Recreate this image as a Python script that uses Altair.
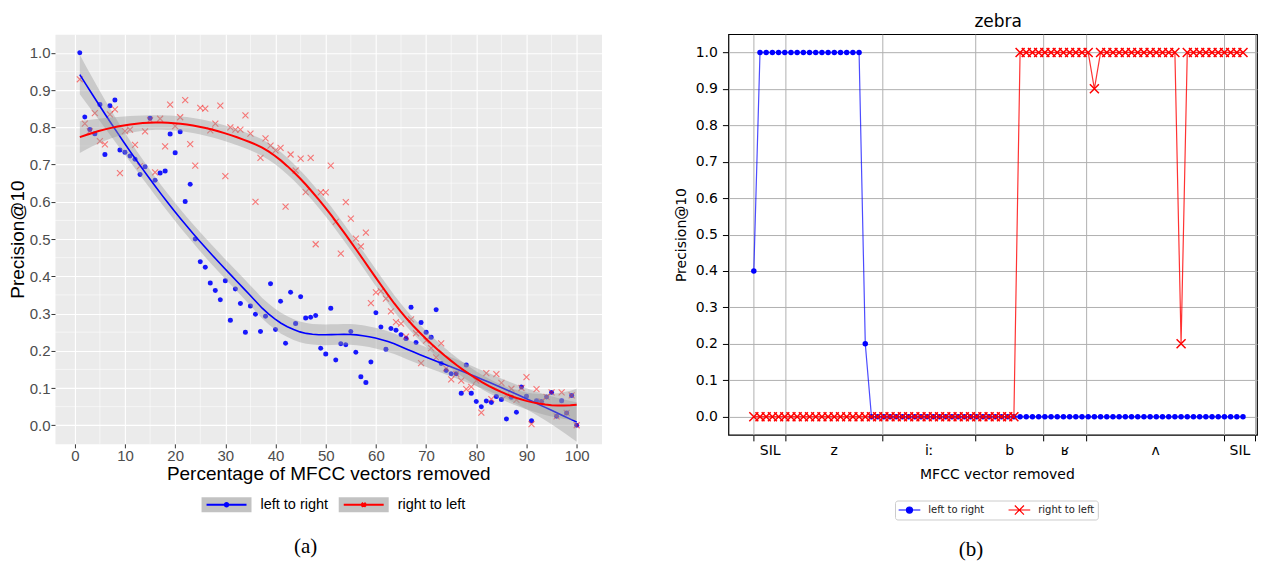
import numpy as np
import pandas as pd
import altair as alt

# ---------------- panel (a) data ----------------
pct_removed = list(range(1, 101))
a_left_to_right = [
    1.000, 0.828, 0.794, 0.783, 0.861, 0.727, 0.858, 0.873, 0.739, 0.733,
    0.723, 0.714, 0.673, 0.694, 0.824, 0.658, 0.677, 0.683, 0.782, 0.732,
    0.788, 0.601, 0.647, 0.500, 0.439, 0.424, 0.382, 0.362, 0.337, 0.388,
    0.282, 0.366, 0.327, 0.250, 0.320, 0.298, 0.252, 0.293, 0.380, 0.257,
    0.333, 0.220, 0.357, 0.273, 0.345, 0.288, 0.290, 0.295, 0.207, 0.191,
    0.314, 0.175, 0.219, 0.216, 0.252, 0.196, 0.130, 0.115, 0.170, 0.302,
    0.264, 0.204, 0.260, 0.255, 0.243, 0.233, 0.317, 0.222, 0.276, 0.250,
    0.236, 0.310, 0.166, 0.147, 0.138, 0.138, 0.086, 0.162, 0.086, 0.064,
    0.050, 0.065, 0.061, 0.077, 0.069, 0.017, 0.075, 0.035, 0.103, 0.078,
    0.012, 0.066, 0.064, 0.076, 0.088, 0.024, 0.066, 0.033, 0.080, 0.000]
a_right_to_left = [
    0.929, 0.810, 0.790, 0.838, 0.763, 0.754, 0.835, 0.848, 0.677, 0.790,
    0.794, 0.753, 0.696, 0.789, 0.820, 0.679, 0.823, 0.749, 0.861, 0.803,
    0.827, 0.873, 0.755, 0.697, 0.852, 0.850, 0.792, 0.810, 0.858, 0.669,
    0.800, 0.794, 0.794, 0.832, 0.783, 0.600, 0.718, 0.770, 0.751, 0.738,
    0.745, 0.587, 0.727, 0.684, 0.716, 0.626, 0.718, 0.486, 0.625, 0.625,
    0.697, 0.546, 0.461, 0.599, 0.555, 0.501, 0.480, 0.517, 0.328, 0.357,
    0.360, 0.340, 0.306, 0.277, 0.273, 0.238, 0.284, 0.247, 0.167, 0.227,
    0.207, 0.182, 0.220, 0.153, 0.123, 0.138, 0.120, 0.097, 0.103, 0.120,
    0.034, 0.140, 0.070, 0.137, 0.114, 0.080, 0.098, 0.068, 0.100, 0.129,
    0.003, 0.097, 0.064, 0.076, 0.088, 0.024, 0.088, 0.033, 0.080, 0.000]
a_x_ticks = [0, 10, 20, 30, 40, 50, 60, 70, 80, 90, 100]
a_x_minor = [5, 15, 25, 35, 45, 55, 65, 75, 85, 95]
y_ticks = [0.0, 0.1, 0.2, 0.3, 0.4, 0.5, 0.6, 0.7, 0.8, 0.9, 1.0]
a_y_minor = [0.05, 0.15, 0.25, 0.35, 0.45, 0.55, 0.65, 0.75, 0.85, 0.95]

# ---------------- panel (b) data ----------------
frame_index = list(range(80))
b_left_to_right = [
    0.4, 1, 1, 1, 1, 1, 1, 1, 1, 1,
    1, 1, 1, 1, 1, 1, 1, 1, 0.2, 0,
    0, 0, 0, 0, 0, 0, 0, 0, 0, 0,
    0, 0, 0, 0, 0, 0, 0, 0, 0, 0,
    0, 0, 0, 0, 0, 0, 0, 0, 0, 0,
    0, 0, 0, 0, 0, 0, 0, 0, 0, 0,
    0, 0, 0, 0, 0, 0, 0, 0, 0, 0,
    0, 0, 0, 0, 0, 0, 0, 0, 0, 0]
b_right_to_left = [
    0, 0, 0, 0, 0, 0, 0, 0, 0, 0,
    0, 0, 0, 0, 0, 0, 0, 0, 0, 0,
    0, 0, 0, 0, 0, 0, 0, 0, 0, 0,
    0, 0, 0, 0, 0, 0, 0, 0, 0, 0,
    0, 0, 0, 1, 1, 1, 1, 1, 1, 1,
    1, 1, 1, 1, 1, 0.9, 1, 1, 1, 1,
    1, 1, 1, 1, 1, 1, 1, 1, 1, 0.2,
    1, 1, 1, 1, 1, 1, 1, 1, 1, 1]
phone_boundaries = [0.0, 5.13, 20.69, 35.79, 46.67, 53.66, 75.93, 80.93]
phone_labels = ["SIL", "z", "iː", "b", "ʁ", "ʌ", "SIL"]

SERIES = ["left to right", "right to left"]
BLUE = "#0000FF"
RED = "#FF0000"


# ---------------- loess smoother (like ggplot geom_smooth) ----------------
def loess_fit(xv, yv, span=0.75, n_eval=80):
    xv = np.asarray(xv, float)
    yv = np.asarray(yv, float)
    n = len(xv)
    q = int(np.floor(n * span))

    def lrow(x0):
        d = np.abs(xv - x0)
        h = max(np.sort(d)[q - 1], 1e-9)
        u = np.clip(d / h, 0, 1)
        w = (1 - u ** 3) ** 3
        X = np.column_stack([np.ones(n), xv - x0, (xv - x0) ** 2])
        XtW = X.T * w
        return np.linalg.solve(XtW @ X, XtW)[0]

    L = np.array([lrow(x0) for x0 in xv])
    res = yv - L @ yv
    IL = np.eye(n) - L
    d1 = np.trace(IL.T @ IL)
    sigma = np.sqrt(np.sum(res ** 2) / d1)
    grid = np.linspace(xv.min(), xv.max(), n_eval)
    rows = np.array([lrow(g) for g in grid])
    fit = rows @ yv
    se = sigma * np.sqrt(np.sum(rows ** 2, axis=1))
    tq = 1.985
    return pd.DataFrame({"x": grid, "y": fit, "lo": fit - tq * se, "hi": fit + tq * se})


sm_blue = loess_fit(pct_removed, a_left_to_right)
sm_red = loess_fit(pct_removed, a_right_to_left)

df_a = pd.DataFrame({
    "x": pct_removed + pct_removed,
    "y": a_left_to_right + a_right_to_left,
    "series": [SERIES[0]] * len(pct_removed) + [SERIES[1]] * len(pct_removed),
})
df_leg = pd.DataFrame({"series": SERIES})

# ---------------- panel (a) ----------------
xa = alt.Scale(domain=[-3.95, 104.95], nice=False, zero=False)
ya = alt.Scale(domain=[-0.05, 1.05], nice=False, zero=False)
FA = "Liberation Sans"

ax_a_x = alt.Axis(values=a_x_ticks, grid=True, gridColor="white", gridWidth=1.1,
                  domain=False, tickColor="#333333", tickSize=4, tickWidth=1,
                  labelFont=FA, labelFontSize=15, labelColor="#4D4D4D", labelPadding=1,
                  labelFlush=False, labelOverlap=False,
                  title="Percentage of MFCC vectors removed", titleFont=FA, titleFontSize=19,
                  titleFontWeight="normal", titleColor="black", titleY=35.2,
                  titleBaseline="alphabetic")
ax_a_y = alt.Axis(values=y_ticks, format=".1f", grid=True, gridColor="white", gridWidth=1.1,
                  domain=False, tickColor="#333333", tickSize=4, tickWidth=1,
                  labelFont=FA, labelFontSize=15, labelColor="#4D4D4D", labelPadding=1,
                  labelFlush=False, labelOverlap=False,
                  title="Precision@10", titleFont=FA, titleFontSize=19,
                  titleFontWeight="normal", titleColor="black", titleX=-31.3,
                  titleBaseline="alphabetic")


def XA(field="x"):
    return alt.X(f"{field}:Q", scale=xa, axis=ax_a_x)


def YA(field="y"):
    return alt.Y(f"{field}:Q", scale=ya, axis=ax_a_y)


minor_x = alt.Chart(pd.DataFrame({"x": a_x_minor})).mark_rule(color="white", strokeWidth=0.55).encode(
    x=XA())
minor_y = alt.Chart(pd.DataFrame({"y": a_y_minor})).mark_rule(color="white", strokeWidth=0.55).encode(
    y=YA())

pts_blue_a = alt.Chart(df_a).transform_filter(alt.datum.series == SERIES[0]).mark_circle(
    size=25, color=BLUE, opacity=0.9).encode(x=XA(), y=YA())
XPATH = "M-1,-1L1,1M-1,1L1,-1"
pts_red_a = alt.Chart(df_a).transform_filter(alt.datum.series == SERIES[1]).mark_point(
    shape=XPATH, size=36, strokeWidth=1.1, color=RED, opacity=0.5, filled=False).encode(
    x=XA(), y=YA())


def band(df):
    return alt.Chart(df).mark_area(color="#999999", opacity=0.4).encode(
        x=XA(), y=YA("lo"), y2="hi:Q")


def smooth_line(df, col, w):
    return alt.Chart(df).mark_line(color=col, strokeWidth=w).encode(x=XA(), y=YA())


leg_a_common = dict(
    orient="none", legendX=145.7, legendY=444.7, direction="horizontal",
    title=None, symbolSize=2500, symbolStrokeWidth=2, labelFont=FA,
    labelFontSize=14.5, labelColor="black", labelOffset=8, columnPadding=9.3, padding=0)

RECT = "M-1,-0.3H1V0.3H-1Z"
key_domain = ["k_" + s for s in SERIES]
leg_a_bg = alt.Chart(df_leg).transform_calculate(key="'k_' + datum.series").transform_filter(
    "false").mark_point(shape=RECT, filled=True, strokeWidth=2, opacity=0.6).encode(
    color=alt.Color("key:N", scale=alt.Scale(domain=key_domain, range=["#999999", "#999999"]),
                    legend=alt.Legend(symbolType=RECT, symbolOpacity=0.6, labelOpacity=0,
                                      labelExpr="substring(datum.label, 2)", **leg_a_common)))

KEY_BLUE = "M-0.8,0H0.8M-0.07,0A0.07,0.07 0 1,0 0.07,0A0.07,0.07 0 1,0 -0.07,0Z"
KEY_RED = "M-0.8,0H0.8M-0.08,-0.08L0.08,0.08M-0.08,0.08L0.08,-0.08"
leg_a_obj = alt.Legend(**leg_a_common)
leg_a_fg = alt.Chart(df_leg).transform_filter("false").mark_point(
    filled=True, strokeWidth=2, opacity=1).encode(
    fill=alt.Fill("series:N", scale=alt.Scale(domain=SERIES, range=[BLUE, RED]), legend=leg_a_obj),
    stroke=alt.Stroke("series:N", scale=alt.Scale(domain=SERIES, range=[BLUE, RED]), legend=leg_a_obj),
    shape=alt.Shape("series:N", scale=alt.Scale(domain=SERIES, range=[KEY_BLUE, KEY_RED]), legend=leg_a_obj))

left = alt.layer(
    minor_x, minor_y, pts_blue_a, pts_red_a,
    band(sm_blue), smooth_line(sm_blue, BLUE, 1.6),
    band(sm_red), smooth_line(sm_red, RED, 2.0),
    leg_a_bg, leg_a_fg,
).properties(
    width=547, height=410,
    view=alt.ViewBackground(fill="#EBEBEB", stroke="transparent"),
    title=alt.TitleParams("(a)", orient="bottom", frame="group", anchor="middle", dx=-22.7,
                          offset=35, baseline="middle", font="Liberation Serif", fontSize=21,
                          fontWeight="normal", color="black"),
)

# ---------------- panel (b) ----------------
FB = "DejaVu Sans"
xb = alt.Scale(domain=[-4.1, 81.26], nice=False, zero=False)
yb = alt.Scale(domain=[-0.05, 1.05], nice=False, zero=False)
mids = [round((a + b) / 2, 3) for a, b in zip(phone_boundaries[:-1], phone_boundaries[1:])]
tick_vals = phone_boundaries + mids
mid_test = " || ".join(f"datum.value == {m!r}" for m in mids)
label_expr = " : ".join(f"datum.value == {m!r} ? '{p}'" for m, p in zip(mids, phone_labels)) + " : ''"

ax_b_x = alt.Axis(orient="bottom", values=tick_vals, labelExpr=label_expr, labelOverlap=False,
                  labelFlush=False, grid=True, gridColor="#B0B0B0", gridWidth=1,
                  gridOpacity={"condition": {"test": mid_test, "value": 0}, "value": 1},
                  ticks=True, tickColor="#000000", tickSize=6, tickWidth=1,
                  tickOpacity={"condition": {"test": mid_test, "value": 0}, "value": 1},
                  domain=False, labelFont=FB, labelFontSize=14, labelColor="#000000",
                  labelPadding=3, title="MFCC vector removed", titleFont=FB, titleFontSize=14,
                  titleFontWeight="normal", titleColor="#000000", titleX=268.7, titleY=43.4,
                  titleBaseline="alphabetic")
ax_b_y = alt.Axis(values=y_ticks, format=".1f", grid=True, gridColor="#B0B0B0", gridWidth=1,
                  domain=False, tickColor="#000000", tickSize=6, tickWidth=1,
                  labelFont=FB, labelFontSize=14, labelColor="#000000", labelPadding=5,
                  labelFlush=False, title="Precision@10", titleFont=FB, titleFontSize=14,
                  titleFontWeight="normal", titleColor="#000000", titleX=-43.1,
                  titleBaseline="alphabetic")
ax_b_top = alt.Axis(orient="top", title="zebra", labels=False, ticks=False, domain=False,
                    grid=False, titleFont=FB, titleFontSize=17, titleFontWeight="normal",
                    titleColor="#000000", titleX=269.5, titleY=-7.5, titleBaseline="alphabetic")


def YB():
    return alt.Y("y:Q", scale=yb, axis=ax_b_y)


df_b = pd.DataFrame({
    "frame": frame_index + frame_index,
    "y": b_left_to_right + b_right_to_left,
    "series": [SERIES[0]] * len(frame_index) + [SERIES[1]] * len(frame_index),
})
bl = alt.Chart(df_b).transform_filter(alt.datum.series == SERIES[0])
rl = alt.Chart(df_b).transform_filter(alt.datum.series == SERIES[1])

line_blue_b = bl.mark_line(color=BLUE, strokeWidth=1.2, opacity=0.7).encode(
    x=alt.X("frame:Q", scale=xb, axis=ax_b_x), y=YB())
pts_blue_b = bl.mark_circle(size=30, color=BLUE, opacity=1).encode(
    x=alt.X("frame:Q", scale=xb, axis=ax_b_top), y=YB())
line_red_b = rl.mark_line(color=RED, strokeWidth=1.2, opacity=0.8).encode(
    x=alt.X("frame:Q", scale=xb, axis=None), y=YB())
pts_red_b = rl.mark_point(shape=XPATH, size=81, strokeWidth=1.5, color=RED, opacity=1,
                          filled=False).encode(
    x=alt.X("frame:Q", scale=xb, axis=None), y=YB())

KEYB_BLUE = "M-1,0H1M-0.28,0A0.28,0.28 0 1,0 0.28,0A0.28,0.28 0 1,0 -0.28,0Z"
KEYB_RED = "M-1,0H1M-0.42,-0.42L0.42,0.42M-0.42,0.42L0.42,-0.42"
leg_b_obj = alt.Legend(orient="none", legendX=166.7, legendY=466.7, direction="horizontal",
                       title=None, symbolSize=471, symbolStrokeWidth=1.2, clipHeight=13,
                       labelFont=FB, labelFontSize=10, labelColor="#222222", labelOffset=7.3,
                       columnPadding=23, padding=3, strokeColor="#CCCCCC", fillColor="white",
                       cornerRadius=2.5)
leg_b = alt.Chart(df_leg).transform_filter("false").mark_point(
    filled=True, strokeWidth=1.2, opacity=1).encode(
    fill=alt.Fill("series:N", scale=alt.Scale(domain=SERIES, range=[BLUE, RED]), legend=leg_b_obj),
    stroke=alt.Stroke("series:N", scale=alt.Scale(domain=SERIES, range=[BLUE, RED]), legend=leg_b_obj),
    shape=alt.Shape("series:N", scale=alt.Scale(domain=SERIES, range=[KEYB_BLUE, KEYB_RED]), legend=leg_b_obj))

right = alt.layer(line_blue_b, pts_blue_b, line_red_b, pts_red_b, leg_b).resolve_axis(
    x="independent").properties(
    width=529, height=401,
    view=alt.ViewBackground(fill="white", stroke="black", strokeWidth=1.2),
    title=alt.TitleParams("(b)", orient="bottom", frame="group", anchor="middle", dx=-21.7,
                          offset=30, baseline="middle", font="Liberation Serif", fontSize=21,
                          fontWeight="normal", color="black"),
)

chart = alt.hconcat(left, right, spacing=127, bounds="flush").resolve_scale(
    color="independent", fill="independent", stroke="independent", shape="independent"
).resolve_legend(
    color="independent", fill="independent", stroke="independent", shape="independent"
).properties(padding={"left": 0, "top": 3, "right": 0, "bottom": 0})

chart.save("out.html", embed_options={"renderer": "svg", "actions": False})
